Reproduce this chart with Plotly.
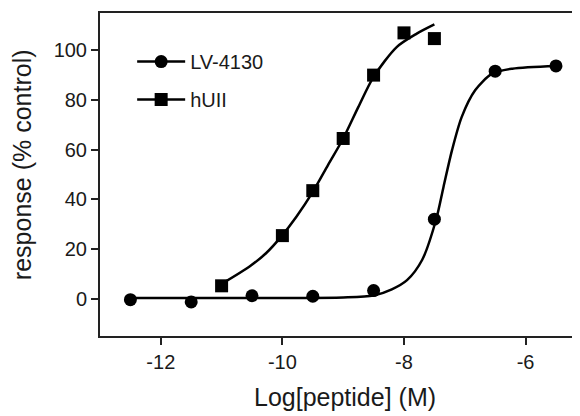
import plotly.graph_objects as go

# Data points
lv_x = [-12.5, -11.5, -10.5, -9.5, -8.5, -7.5, -6.5, -5.5]
lv_y = [-0.4, -1.3, 1.2, 1.0, 3.3, 32.0, 91.6, 93.7]
hu_x = [-11.0, -10.0, -9.5, -9.0, -8.5, -8.0, -7.5]
hu_y = [5.2, 25.4, 43.5, 64.5, 90.0, 107.0, 104.7]

# Fitted curves
lv_fit_x = [-12.5, -11.0, -10.0, -9.0, -8.5, -8.2, -7.95, -7.7, -7.47, -7.35, -7.21, -7.05, -6.83, -6.55, -6.22, -5.5]
lv_fit_y = [0.3, 0.3, 0.3, 0.5, 1.3, 3.8, 7.5, 15.7, 32.0, 45.0, 59.8, 73.2, 83.9, 90.6, 92.6, 93.7]
hu_fit_x = [-11.0, -10.54, -10.27, -10.02, -9.77, -9.5, -9.25, -9.0, -8.75, -8.5, -8.12, -7.79, -7.5]
hu_fit_y = [6.0, 13.0, 18.3, 25.0, 33.0, 43.0, 53.8, 64.5, 77.2, 89.3, 101.3, 106.7, 110.4]

x_ticks = [-12, -10, -8, -6]
y_ticks = [0, 20, 40, 60, 80, 100]

FONT = "Liberation Sans, Arial, sans-serif"
TXT = "#1a1a1a"
fig = go.Figure()

for name, fx, fy in [("LV-4130", lv_fit_x, lv_fit_y), ("hUII", hu_fit_x, hu_fit_y)]:
    fig.add_trace(go.Scatter(x=fx, y=fy, mode="lines", line=dict(color="black", width=2.5, shape="spline", smoothing=0.8),
                             showlegend=False, hoverinfo="skip"))

fig.add_trace(go.Scatter(x=lv_x, y=lv_y, mode="markers", marker=dict(symbol="circle", size=13, color="black"),
                         showlegend=False))
fig.add_trace(go.Scatter(x=hu_x, y=hu_y, mode="markers", marker=dict(symbol="square", size=13, color="black"),
                         showlegend=False))

# legend-only entries
fig.add_trace(go.Scatter(x=[None], y=[None], mode="lines+markers", name="LV-4130", legendgroup="a",
                         line=dict(color="black", width=2.5), marker=dict(symbol="circle", size=13, color="black")))
fig.add_trace(go.Scatter(x=[None], y=[None], mode="lines+markers", name="hUII", legendgroup="b",
                         line=dict(color="black", width=2.5), marker=dict(symbol="square", size=13, color="black")))

fig.update_layout(
    width=572, height=408,
    margin=dict(l=92, r=0, t=5, b=80),
    paper_bgcolor="white", plot_bgcolor="white",
    font=dict(family=FONT, size=20, color=TXT),
    showlegend=True,
    legend=dict(x=0.067, y=0.91, xanchor="left", yanchor="top", bgcolor="rgba(0,0,0,0)",
                font=dict(size=20, family=FONT, color=TXT), tracegroupgap=9, itemwidth=48),
    xaxis=dict(range=[-13, -5.105], tickvals=x_ticks, ticktext=[str(v) for v in x_ticks], automargin=False,
               showline=True, linecolor="#222", linewidth=2, mirror=True, showgrid=False, zeroline=False,
               ticks="outside", ticklen=7, tickwidth=2, tickcolor="#222", tickfont=dict(size=20)),
    yaxis=dict(range=[-15, 115], tickvals=y_ticks, ticktext=[str(v) for v in y_ticks], automargin=False,
               showline=True, linecolor="#222", linewidth=2, mirror=False, showgrid=False, zeroline=False,
               ticks="outside", ticklen=7, tickwidth=2, tickcolor="#222", tickfont=dict(size=20)),
    annotations=[
        dict(text="Log[peptide] (M)", xref="paper", yref="paper", x=0.51, y=-0.189, xanchor="center",
             yanchor="middle", showarrow=False, font=dict(size=25, family=FONT, color=TXT)),
        dict(text="response (% control)", xref="paper", yref="paper", x=-0.1625, y=0.529, xanchor="center",
             yanchor="middle", textangle=-90, showarrow=False, font=dict(size=25, family=FONT, color=TXT)),
    ],
)

fig.write_html("out.html")
